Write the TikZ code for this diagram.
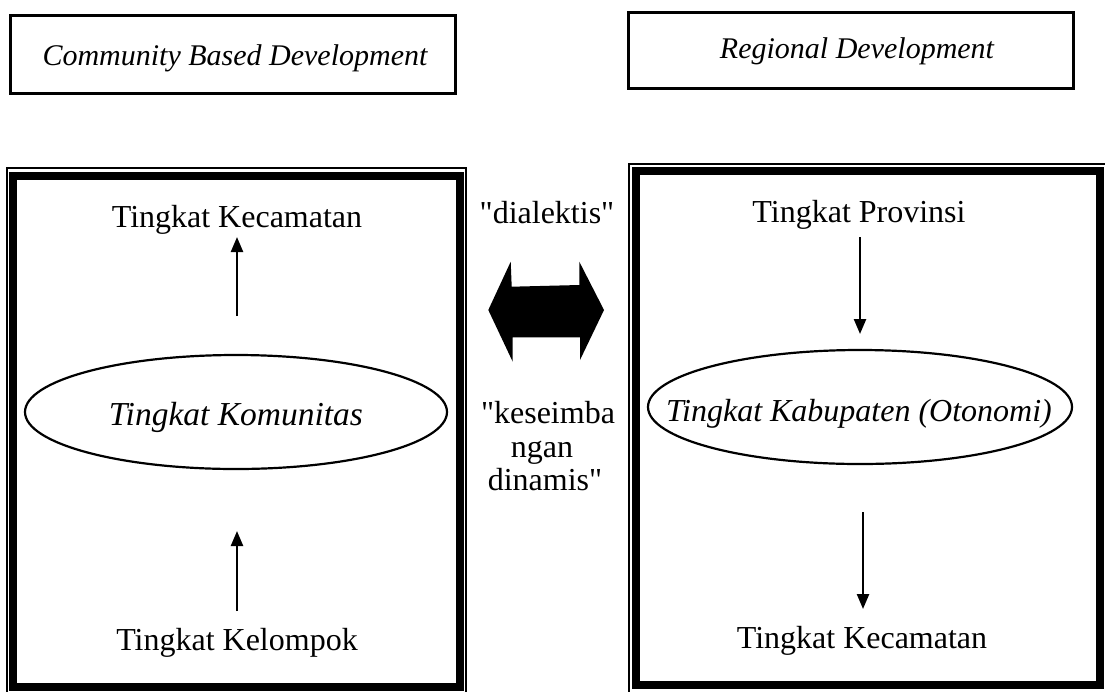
\documentclass[tikz,border=0pt]{standalone}
\usepackage{fontspec}
\setmainfont{Liberation Serif}
\usetikzlibrary{arrows.meta,shapes.geometric}
\tikzset{
  lbl/.style={inner sep=0pt, anchor=base, font=\fontsize{32}{38}\selectfont},
  ilbl/.style={inner sep=0pt, anchor=base, font=\fontsize{30}{36}\selectfont\itshape},
  olbl/.style={inner sep=0pt, anchor=base, font=\fontsize{32}{38}\selectfont\itshape},
  topbox/.style={draw, line width=3pt},
  thickframe/.style={draw, line width=8pt},
  thinframe/.style={draw, line width=1.8pt},
  oval/.style={draw, ellipse, line width=2.2pt, inner sep=0pt, minimum width=422pt, minimum height=114pt},
  uparr/.style={line width=2.4pt, -{Triangle[length=15pt,width=12pt]}},
}
\begin{document}
\begin{tikzpicture}[x=1pt,y=-1pt]
\useasboundingbox (0,0) rectangle (1105,691);
% top boxes
\node[topbox, minimum width=445pt, minimum height=78pt, inner sep=0pt] (cbd) at (232.5,54) {};
\node[ilbl] (cbdt) at (235,65) {Community Based Development};
\node[topbox, minimum width=445pt, minimum height=76pt, inner sep=0pt] (rd) at (850.5,50) {};
\node[ilbl] (rdt) at (857,58) {Regional Development};
% big frames
\draw[thinframe] (7,168) rectangle (466,696);
\draw[thickframe] (13,176) rectangle (460,687);
\draw[thinframe] (629,164) rectangle (1108,696);
\draw[thickframe] (636,171) rectangle (1100,685);
% left column
\node[lbl] (kecL) at (237,227) {Tingkat Kecamatan};
\node[oval] (komL) at (236,412) {};
\node[olbl, font=\fontsize{33.5}{38}\selectfont\itshape] (komLt) at (236,425) {Tingkat Komunitas};
\node[lbl] (kelL) at (237,650) {Tingkat Kelompok};
\coordinate (a1s) at (237,316);
\coordinate (a1e) at (237,237);
\coordinate (a2s) at (237,611);
\coordinate (a2e) at (237,531);
\draw[uparr] (a1s) -- (a1e);
\draw[uparr] (a2s) -- (a2e);
% right column
\node[lbl] (prov) at (859,222) {Tingkat Provinsi};
\node[oval, minimum width=424pt] (kab) at (860,407) {};
\node[olbl] (kabt) at (859,421) {Tingkat Kabupaten (Otonomi)};
\node[lbl] (kecR) at (862,648) {Tingkat Kecamatan};
\coordinate (b1s) at (860,237);
\coordinate (b1e) at (860,334);
\coordinate (b2s) at (863,512);
\coordinate (b2e) at (863,609);
\draw[uparr] (b1s) -- (b1e);
\draw[uparr] (b2s) -- (b2e);
% middle
\node[lbl] (dial) at (547,223) {\textquotedbl dialektis\textquotedbl};
\fill (488.3,310) -- (510.7,261.7) -- (511.7,286.7) -- (579.3,285) -- (579.3,261.7) -- (604,310) -- (580,360) -- (580,337.3) -- (512.7,337.3) -- (512.7,361.7) -- cycle;
\node[lbl] (ks1) at (548,423) {\textquotedbl keseimba};
\node[lbl] (ks2) at (542,457) {ngan};
\node[lbl] (ks3) at (545,490) {dinamis\textquotedbl};
\end{tikzpicture}
\end{document}
